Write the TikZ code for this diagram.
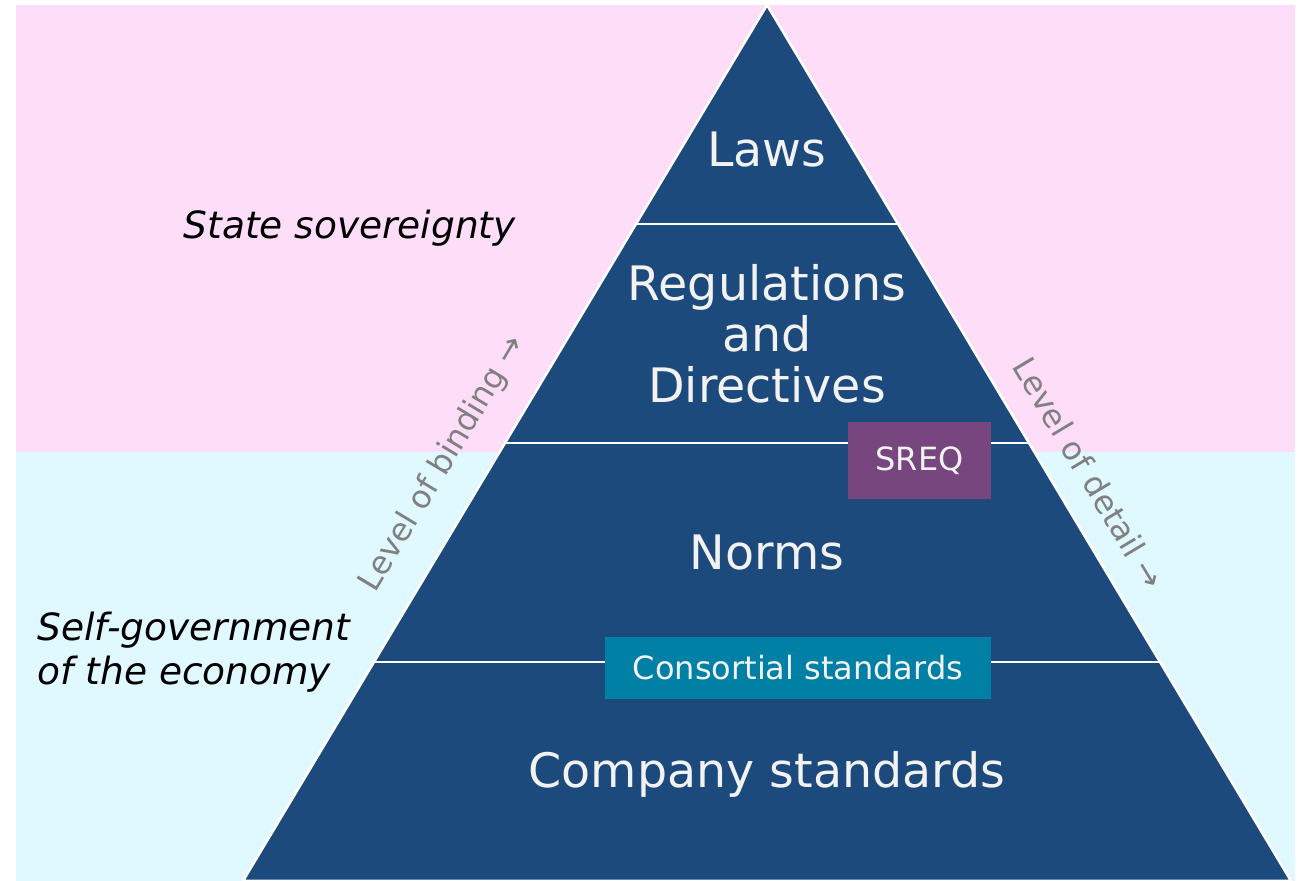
\documentclass[tikz,border=0pt]{standalone}
\usepackage{fontspec}
\setmainfont{DejaVu Sans}
\usetikzlibrary{calc}

\definecolor{statepink}{RGB}{253,221,248}
\definecolor{selfcyan}{RGB}{224,248,255}
\definecolor{pyrblue}{RGB}{28,74,124}
\definecolor{sreqpurple}{RGB}{120,70,126}
\definecolor{consteal}{RGB}{0,128,164}
\definecolor{pyrtext}{RGB}{242,242,242}

\tikzset{
  level/.style={text=pyrtext, font=\fontsize{47.5}{51}\selectfont, align=center},
  tagbox/.style={text=pyrtext, inner sep=0pt, font=\fontsize{32}{36}\selectfont},
  side/.style={text=gray, font=\fontsize{32}{36}\selectfont},
  realm/.style={anchor=west, align=left, font=\fontsize{37.5}{44}\selectfont\itshape},
}

\begin{document}
\begin{tikzpicture}[x=1pt, y=1pt]
    \useasboundingbox (0,0) rectangle (1302,881);
    % background
    \fill[statepink] (16,429) rectangle (1295,876);
    \fill[selfcyan] (16,0) rectangle (1295,429);
    % pyramid
    \coordinate (apex) at (767,876);
    \coordinate (bl) at (243,0);
    \coordinate (br) at (1291,0);
    \draw[white, line width=2.5, fill=pyrblue] (bl) -- (apex) -- (br) -- cycle;
    \foreach \t in {0.25,0.5,0.75} {
      \draw[white, line width=2] ($(apex)!\t!(bl)$) -- ($(apex)!\t!(br)$);
    }
    % levels
    \node[level] (laws) at (767,731) {Laws};
    \node[level] (regs) at (767,547) {Regulations\\and\\Directives};
    \node[level] (norms) at (767,328) {Norms};
    \node[level] (company) at (767,107) {Company standards};
    % boxes
    \node[tagbox, fill=sreqpurple, minimum width=143, minimum height=77] (sreq) at (919.5,420.5) {SREQ};
    \node[tagbox, fill=consteal, minimum width=386, minimum height=62] (consortial) at (798,213) {Consortial standards};
    % side labels
    \node[side, rotate=59] (binding) at (443,417) {Level of binding →};
    \node[side, rotate=-59] (detail) at (1089,408) {Level of detail →};
    % realms
    \node[realm] (state) at (180,653) {State sovereignty};
    \node[realm] (self) at (34,229) {Self-government\\of the economy};
\end{tikzpicture}
\end{document}
